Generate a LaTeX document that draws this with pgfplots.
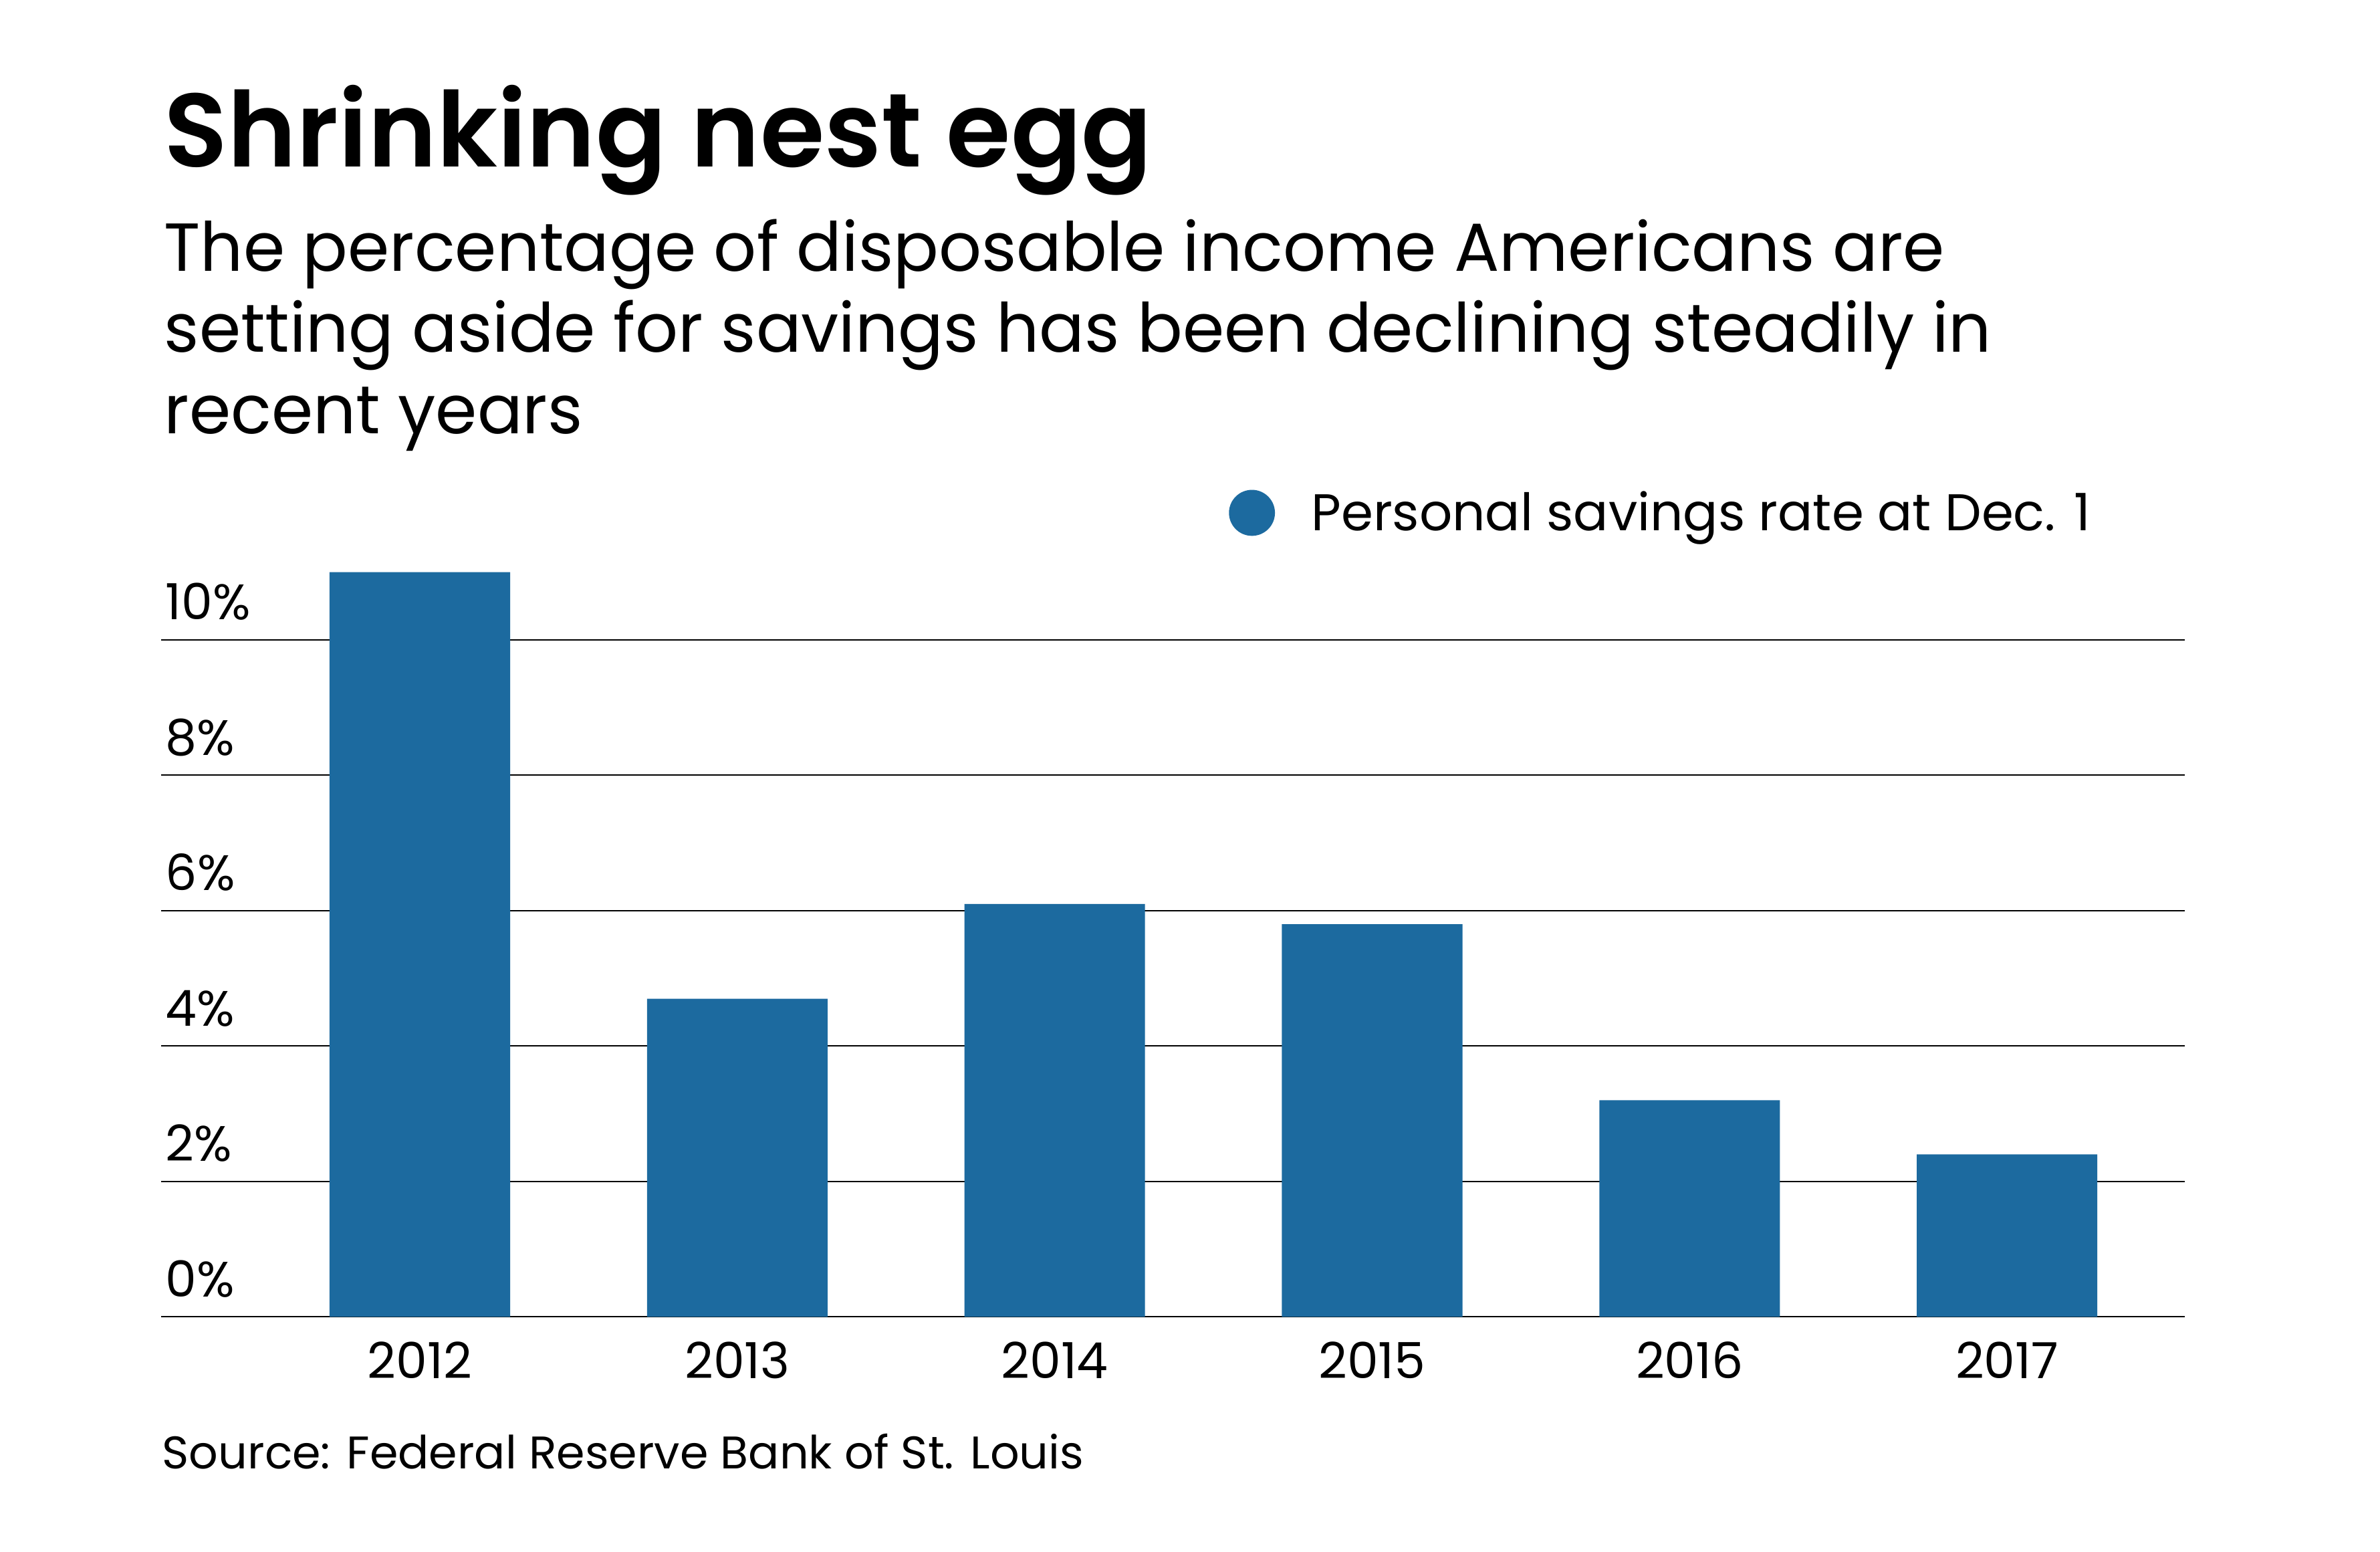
\documentclass[border=0pt]{standalone}
\usepackage{fontspec}
\setmainfont{Poppins}
\newfontfamily\titlefont{Poppins SemiBold}
\newfontfamily\subfont{Poppins}[FakeStretch=0.986]
\usepackage{pgfplots}
\pgfplotsset{compat=1.18}
\definecolor{barblue}{HTML}{1C6A9F}
% positions are given in pixels of the 3560x2320 reference, y from the top
\newcommand\at[2]{({#1*0.25pt},{580pt-#2*0.25pt})}

\begin{document}
\begin{tikzpicture}
\path[use as bounding box] (0,0) rectangle (890pt,580pt);

\node[anchor=base west, inner sep=0pt, font=\titlefont\fontsize{39}{46}\selectfont]
  at \at{245}{250} {Shrinking nest egg};
\begin{scope}[every node/.style={anchor=base west, inner sep=0pt, font=\subfont\fontsize{25.4}{30}\selectfont}]
  \node at \at{245}{406} {The percentage of disposable income Americans are};
  \node at \at{245}{527} {setting aside for savings has been declining steadily in};
  \node at \at{245}{649} {recent years};
\end{scope}
\node[anchor=base west, inner sep=0pt, font=\fontsize{17.1}{20}\selectfont]
  at \at{242}{2197} {Source: Federal Reserve Bank of St. Louis};

\begin{axis}[
    at={(60.25pt,87.625pt)}, anchor=south west,
    scale only axis,
    width=756.75pt, height=278.44pt,
    xmin=-0.815, xmax=5.56,
    ymin=0, ymax=11,
    clip=false,
    axis line style={draw=none},
    major tick length=0pt,
    ymajorgrids,
    grid style={black, line width=0.5pt},
    ytick={0,2,4,6,8,10},
    yticklabels={0\%,2\%,4\%,6\%,8\%,10\%},
    yticklabel style={anchor=base west, inner sep=0pt, xshift=1.5pt, yshift=7.5pt,
      font=\fontsize{18.6}{22}\selectfont},
    xtick={0,1,2,3,4,5},
    xticklabels={2012,2013,2014,2015,2016,2017},
    xticklabel style={anchor=base, inner sep=0pt, yshift=-22.9pt,
      font=\fontsize{18.6}{22}\selectfont},
    legend style={at={(axis description cs:0.5274,1.0797)}, anchor=west,
      draw=none, fill=none, inner sep=0pt,
      font=\fontsize{19.3}{23}\selectfont,
      nodes={inner sep=0pt},
      /tikz/every odd column/.append style={column sep=13.6pt}},
  ]
  \addplot[ybar, bar width=0.5687, fill=barblue, draw=none,
    legend image code/.code={\fill[barblue] (8.6pt,0pt) circle (8.6pt);}]
    coordinates {(0,11.0) (1,4.7) (2,6.1) (3,5.8) (4,3.2) (5,2.4)};
  \addlegendentry{Personal savings rate at Dec. 1}
\end{axis}
\end{tikzpicture}
\end{document}
